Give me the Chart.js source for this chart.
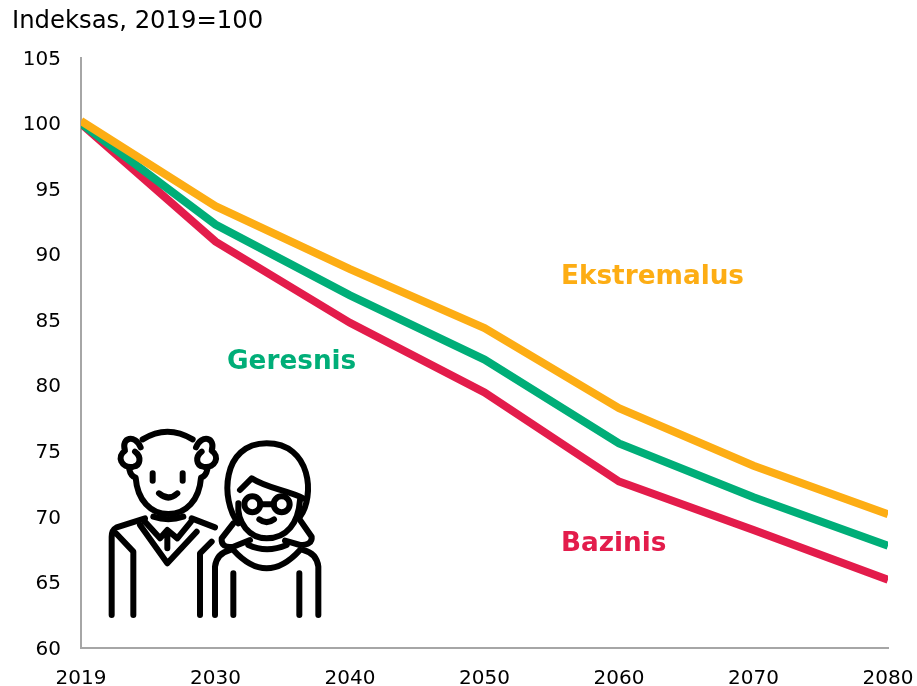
<!DOCTYPE html>
<html><head><meta charset="utf-8">
<style>html,body{margin:0;padding:0;background:#fff;overflow:hidden}
#w{position:relative;width:917px;height:686px}
svg{position:absolute;left:90px;top:410px;filter:blur(.35px)}</style>
<script src="https://cdn.jsdelivr.net/npm/chart.js@4/dist/chart.umd.min.js"></script>
</head><body><div id="w"><canvas id="c" width="917" height="686"></canvas>
<svg width="250" height="220" viewBox="0 0 750 660" fill="none" stroke="#000" stroke-width="18" stroke-linecap="round" stroke-linejoin="round">
<path d="M158 88Q232 42 308 88"/>
<path d="M152 112C135 72 92 82 105 122C80 138 92 176 130 170C152 166 155 140 135 125"/>
<path d="M318 112C335 72 378 82 365 122C390 138 378 176 340 170C318 166 315 140 335 125"/>
<path d="M118 178Q122 198 137 203C142 270 182 312 235 312C288 312 328 270 333 203Q348 198 352 178"/>
<path d="M188 190V212M278 190V212M207 250Q235 275 262 250"/>
<path d="M165 325L80 352Q65 360 65 380V615M305 325L375 352M80 372L130 425V615"/>
<path d="M150 345L232 460L320 365M165 335L210 385L232 360L262 385L303 335M190 320Q235 335 280 320M232 365V415"/>
<path d="M365 395L330 430V615"/>
<path d="M445 340C390 270 395 100 530 100C665 100 675 260 630 320"/>
<path d="M450 240L485 205C530 235 590 240 640 265M445 280C440 340 480 385 530 385C590 385 625 340 630 270"/>
<circle cx="487" cy="283" r="24"/><circle cx="575" cy="283" r="24"/>
<path d="M511 283H551M508 328Q530 345 552 328"/>
<path d="M430 340L395 385Q392 415 430 410L480 390M630 330L665 380Q668 405 630 405L585 392M475 405Q530 430 590 405"/>
<path d="M430 420Q530 530 630 420M375 615V470Q380 430 420 420M685 615V470Q680 430 640 420M430 490V615M628 490V615"/>
</svg></div>
<script>
const years = ["2019","2030","2040","2050","2060","2070","2080"];
const bazinis = [100, 91, 84.8, 79.5, 72.7, 69, 65.2];
const geresnis = [100, 92.3, 86.9, 82, 75.6, 71.5, 67.8];
const ekstremalus = [100.2, 93.7, 88.9, 84.4, 78.3, 73.9, 70.2];
const FONT = '"DejaVu Sans"';
const RED = '#e31c4b', GREEN = '#00ae78', ORANGE = '#fdad14';
const notes = [
  {text:'Ekstremalus', color:ORANGE, x:561, y:277},
  {text:'Geresnis', color:GREEN, x:227, y:362},
  {text:'Bazinis', color:RED, x:561, y:544}
];
const notePlugin = {id:'notes', afterDraw(ch){
  const c = ch.ctx; c.save(); c.textAlign='left'; c.textBaseline='middle';
  c.font = 'bold 26.3px '+FONT;
  notes.forEach(n=>{c.fillStyle=n.color; c.fillText(n.text,n.x,n.y);});
  c.font = '24.3px '+FONT; c.fillStyle='#000';
  c.fillText('Indeksas, 2019=100',12,22);
  c.restore();
}};
const mk=(label,data,color)=>({label,data,borderColor:color,backgroundColor:color,borderWidth:8,pointRadius:0,tension:0,clip:0,borderCapStyle:'butt',borderJoinStyle:'miter'});
new Chart(document.getElementById('c'),{
  type:'line',
  data:{labels:years,datasets:[mk('Ekstremalus',ekstremalus,ORANGE),mk('Geresnis',geresnis,GREEN),mk('Bazinis',bazinis,RED)].map((d,i)=>({...d,order:i}))},
  plugins:[notePlugin],
  options:{
    responsive:false,animation:false,
    layout:{padding:{left:0,right:29,top:58,bottom:0}},
    plugins:{legend:{display:false},title:{display:false},tooltip:{enabled:false}},
    scales:{
      x:{offset:false,afterFit(s){s.height=38;s.paddingRight=0;s.paddingLeft=0;},grid:{display:false,drawTicks:false},border:{color:'#a6a6a6',width:2},
         ticks:{color:'#000',font:{family:FONT,size:20},maxRotation:0,autoSkip:false,padding:19}},
      y:{min:60,max:105,afterFit(s){s.width=81;},grid:{display:false,drawTicks:false},border:{color:'#a6a6a6',width:2},
         ticks:{stepSize:5,color:'#000',font:{family:FONT,size:20},padding:20,labelOffset:1.5}}
    }
  }
});
</script></body></html>
